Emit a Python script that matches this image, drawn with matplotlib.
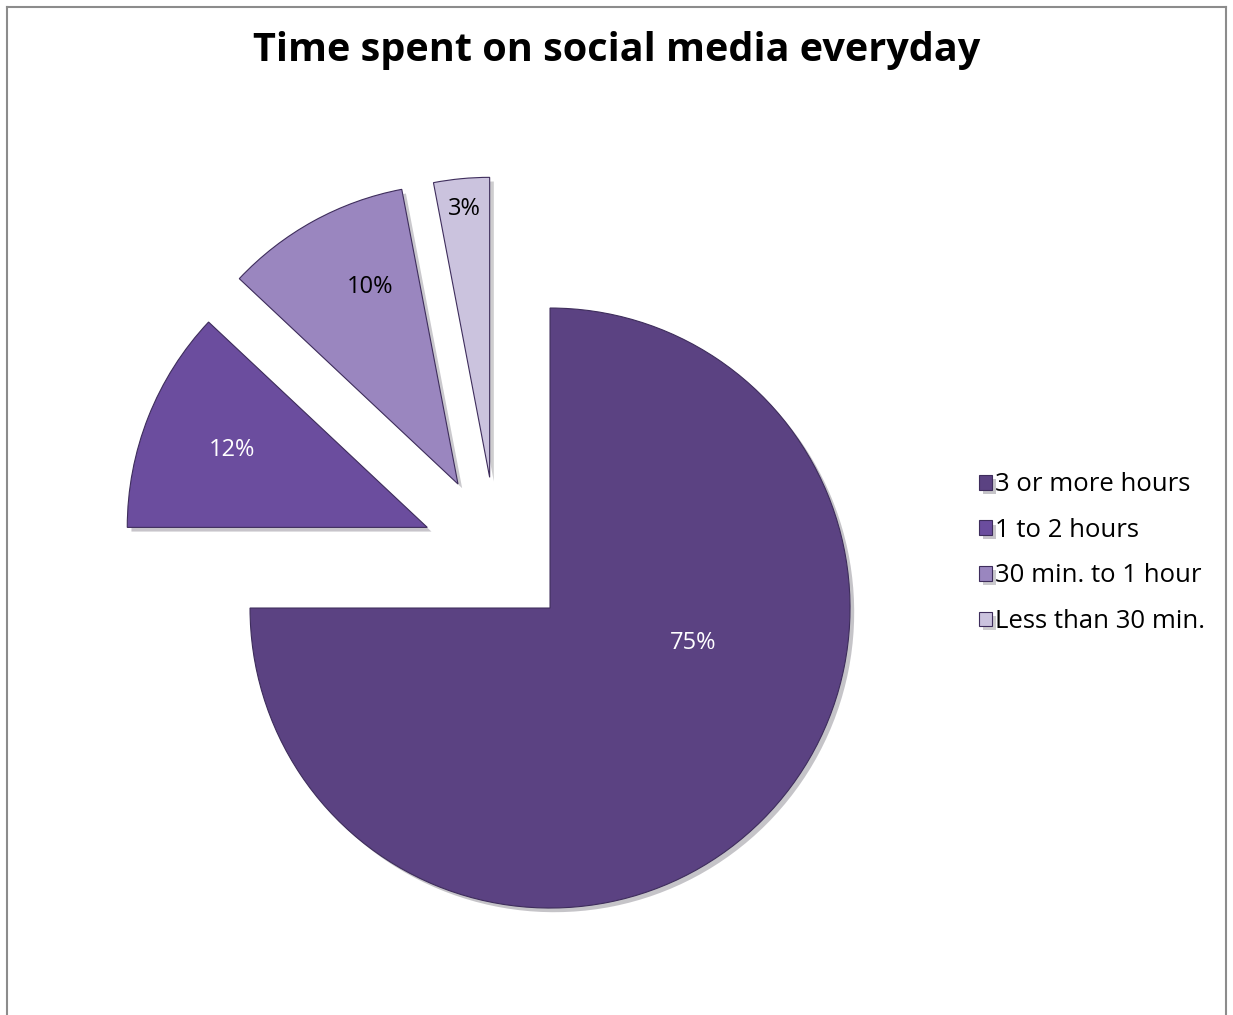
import matplotlib.pyplot as plt
import matplotlib.patheffects as pe
from matplotlib.lines import Line2D
import numpy as np

categories = ['3 or more hours', '1 to 2 hours', '30 min. to 1 hour', 'Less than 30 min.']
shares = [75, 12, 10, 3]
pct_labels = ['75%', '12%', '10%', '3%']

explode = [0.25, 0.25, 0.27, 0.26]
colors = ['#5b4282', '#6b4d9e', '#9a86bf', '#cbc3de']
label_colors = ['white', 'white', 'black', 'black']
label_dist = [0.49, 0.70, 0.72, 0.90]
label_angle = [-13.7, None, 114, None]  # None -> middle of the wedge

plt.rcParams['font.family'] = ['Open Sans', 'DejaVu Sans']

fig = plt.figure(figsize=(12.33, 10.15), dpi=100)
ax = fig.add_axes([0, 0, 1, 1])

wedges, _ = ax.pie(shares, explode=explode, colors=colors, startangle=90,
                   counterclock=False, radius=1,
                   wedgeprops=dict(edgecolor='#3e2d5c', linewidth=0.8))
for w in wedges:
    w.set_path_effects([pe.SimplePatchShadow(offset=(3, -3), alpha=0.25), pe.Normal()])

# pie centre at (497, 555) px, 300 px per unit radius
px = 300.0
ax.set_xlim(-497 / px, (1233 - 497) / px)
ax.set_ylim(-(1015 - 555) / px, 555 / px)
ax.axis('off')

for w, txt, col, d, a in zip(wedges, pct_labels, label_colors, label_dist, label_angle):
    if a is None:
        a = (w.theta1 + w.theta2) / 2
    cx, cy = w.center
    ax.text(cx + d * np.cos(np.radians(a)), cy + d * np.sin(np.radians(a)), txt,
            color=col, fontsize=17, ha='center', va='center')

fig.legend(wedges, categories, loc='center left', bbox_to_anchor=(0.775, 0.455),
           frameon=False, fontsize=18.5, labelspacing=0.8, handlelength=0.5,
           handleheight=0.5, handletextpad=0.15)

fig.text(0.5, 1 - 50 / 1015, 'Time spent on social media everyday',
         ha='center', va='center', fontsize=28.5, fontweight='bold')

# outer frame
for xs, ys in [([7, 7], [0, 1008]), ([7, 1226], [1008, 1008]), ([1226, 1226], [1008, 0])]:
    fig.add_artist(Line2D(np.array(xs) / 1233, np.array(ys) / 1015, color='#8c8c8c', linewidth=1.5))

fig.savefig('out.png', dpi=100)
